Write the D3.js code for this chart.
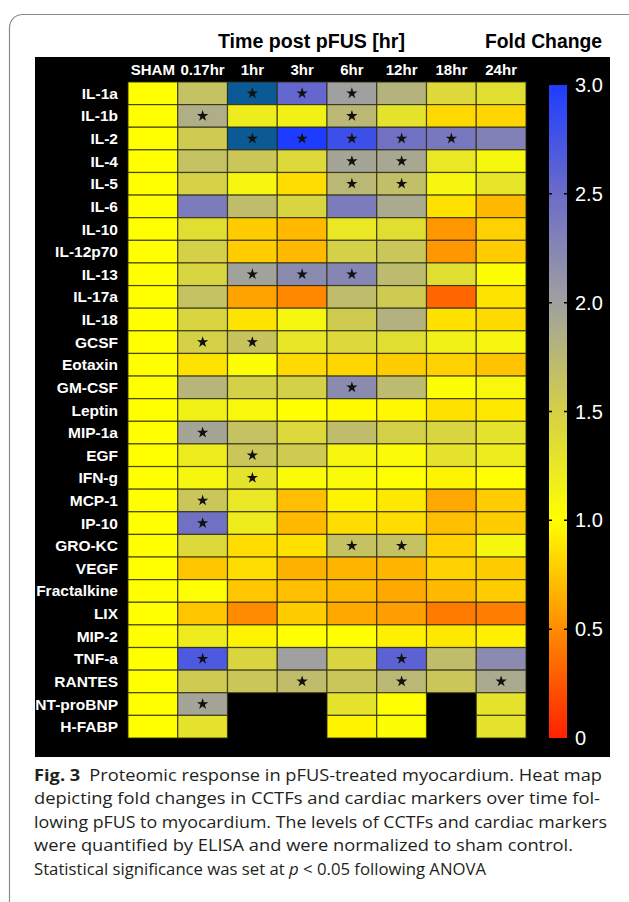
<!DOCTYPE html>
<html>
<head>
<meta charset="utf-8">
<script src="https://cdn.jsdelivr.net/npm/d3@7"></script>
<style>
  body { margin: 0; background: #fff; }
  svg { display: block; }
</style>
</head>
<body>
<svg width="629" height="902"></svg>
<script>
// time points (columns) and analytes (rows)
var timepoints = ["SHAM", "0.17hr", "1hr", "3hr", "6hr", "12hr", "18hr", "24hr"];
var analytes = ["IL-1a", "IL-1b", "IL-2", "IL-4", "IL-5", "IL-6", "IL-10", "IL-12p70", "IL-13",
  "IL-17a", "IL-18", "GCSF", "Eotaxin", "GM-CSF", "Leptin", "MIP-1a", "EGF", "IFN-g", "MCP-1",
  "IP-10", "GRO-KC", "VEGF", "Fractalkine", "LIX", "MIP-2", "TNF-a", "RANTES", "NT-proBNP", "H-FABP"];

// fold change per time point, one value per analyte (null = not measured)
var sham  = [1,1,1,1,1,1,1,1,1,1,1,1,1,1,1,1,1,1,1,1,1,1,1,1,1,1,1,1,1];
var h017  = [1.65,1.85,1.55,1.65,1.48,2.35,1.35,1.5,1.45,1.65,1.45,1.5,0.88,1.78,1.15,1.95,1.2,1.1,1.6,2.45,1.4,0.75,1.0,0.75,1.2,2.7,1.55,1.95,1.3];
var h1    = [3.5,1.2,3.5,1.6,1.1,1.7,0.78,0.78,1.98,0.6,0.88,1.62,1.02,1.5,1.08,1.65,1.6,1.3,1.25,1.2,0.85,0.85,0.75,0.5,0.95,1.45,1.6,null,null];
var h3    = [2.55,1.15,3.0,1.4,0.85,1.45,0.7,0.7,2.2,0.48,1.1,1.27,0.84,1.5,1.0,1.4,1.55,1.05,0.72,0.7,0.87,0.66,0.72,0.78,1.0,2.0,1.7,null,null];
var h6    = [2.0,1.75,2.8,1.95,1.75,2.35,1.25,1.5,2.25,1.7,1.55,1.4,0.82,2.2,0.98,1.7,1.1,1.05,0.95,0.85,1.65,0.68,0.7,0.62,1.0,1.45,1.6,1.3,0.95];
var h12   = [1.8,1.3,2.45,1.92,1.68,1.9,1.35,1.6,1.72,1.55,1.82,1.35,0.78,1.72,0.97,1.5,1.05,1.0,0.9,0.85,1.65,0.68,0.62,0.58,0.93,2.6,1.75,1.0,1.02];
var h18   = [1.4,0.83,2.38,1.25,1.1,0.87,0.55,0.55,1.35,0.32,0.87,1.15,0.8,1.02,0.87,1.45,1.3,0.95,0.62,0.72,0.8,0.8,0.7,0.42,0.9,1.7,1.6,null,null];
var h24   = [1.35,0.82,2.3,1.1,1.28,0.7,0.8,0.78,1.02,0.88,0.84,1.1,0.74,1.08,0.9,1.3,1.2,1.0,0.78,0.78,1.1,0.78,0.78,0.43,0.93,2.2,1.9,1.3,1.3];

// significant cells (p < 0.05): [analyte, time point]
var significant = [
  ["IL-1a","1hr"],["IL-1a","3hr"],["IL-1a","6hr"],
  ["IL-1b","0.17hr"],["IL-1b","6hr"],
  ["IL-2","1hr"],["IL-2","3hr"],["IL-2","6hr"],["IL-2","12hr"],["IL-2","18hr"],
  ["IL-4","6hr"],["IL-4","12hr"],["IL-5","6hr"],["IL-5","12hr"],
  ["IL-13","1hr"],["IL-13","3hr"],["IL-13","6hr"],
  ["GCSF","0.17hr"],["GCSF","1hr"],["GM-CSF","6hr"],["MIP-1a","0.17hr"],
  ["EGF","1hr"],["IFN-g","1hr"],["MCP-1","0.17hr"],["IP-10","0.17hr"],
  ["GRO-KC","6hr"],["GRO-KC","12hr"],["TNF-a","0.17hr"],["TNF-a","12hr"],
  ["RANTES","3hr"],["RANTES","12hr"],["RANTES","24hr"],["NT-proBNP","0.17hr"]
];

var colorTicks = [0, 0.5, 1.0, 1.5, 2.0, 2.5, 3.0];
var tickLabels = ["0", "0.5", "1.0", "1.5", "2.0", "2.5", "3.0"];

var captionLines = [
  "depicting fold changes in CCTFs and cardiac markers over time fol-",
  "lowing pFUS to myocardium. The levels of CCTFs and cardiac markers",
  "were quantified by ELISA and were normalized to sham control."
];

// build cell table
var series = [sham, h017, h1, h3, h6, h12, h18, h24];
var cells = [];
timepoints.forEach(function(t, j) {
  analytes.forEach(function(a, i) {
    if (series[j][i] !== null) cells.push({ row: a, col: t, value: series[j][i] });
  });
});

var svg = d3.select("svg");

// outer rounded frame
svg.append("rect")
  .attr("x", 9.5).attr("y", 14.5)
  .attr("width", 640).attr("height", 920)
  .attr("rx", 13)
  .attr("fill", "none")
  .attr("stroke", "#8a8a8a")
  .attr("stroke-width", 1.2);

// titles (condensed bold)
svg.append("text")
  .attr("x", 218).attr("y", 48)
  .attr("font-family", "Liberation Sans, Arial, sans-serif")
  .attr("font-weight", "bold")
  .attr("font-size", 20)
  .attr("textLength", 187).attr("lengthAdjust", "spacingAndGlyphs")
  .text("Time post pFUS [hr]");

svg.append("text")
  .attr("x", 485).attr("y", 48)
  .attr("font-family", "Liberation Sans, Arial, sans-serif")
  .attr("font-weight", "bold")
  .attr("font-size", 20)
  .attr("textLength", 117).attr("lengthAdjust", "spacingAndGlyphs")
  .text("Fold Change");

// black panel
svg.append("rect")
  .attr("x", 35).attr("y", 57)
  .attr("width", 575).attr("height", 700)
  .attr("fill", "#000");

var x = d3.scaleBand().domain(timepoints).range([128, 526]);
var y = d3.scaleBand().domain(analytes).range([82, 738]);

var color = d3.scaleLinear()
  .domain([0, 0.5, 1, 1.5, 2, 2.5, 3, 3.5])
  .range(["#ff2000", "#ff8c00", "#ffff00", "#d4d048", "#a0a0a0", "#6c6cc8", "#1e3cff", "#0b5a96"])
  .clamp(true);

// heat map cells
svg.append("g").selectAll("rect")
  .data(cells)
  .enter().append("rect")
  .attr("x", function(d) { return x(d.col); })
  .attr("y", function(d) { return y(d.row); })
  .attr("width", x.bandwidth())
  .attr("height", y.bandwidth())
  .attr("fill", function(d) { return color(d.value); })
  .attr("stroke", "#2a2a10")
  .attr("stroke-opacity", 0.75)
  .attr("stroke-width", 1.2);

// significance stars
var star = d3.symbol().type(d3.symbolStar).size(40);
svg.append("g").selectAll("path")
  .data(significant)
  .enter().append("path")
  .attr("d", star)
  .attr("transform", function(d) {
    return "translate(" + (x(d[1]) + x.bandwidth() / 2) + "," + (y(d[0]) + y.bandwidth() / 2) + ")";
  })
  .attr("fill", "#111");

// column headers
svg.append("g").selectAll("text")
  .data(timepoints)
  .enter().append("text")
  .attr("x", function(d) { return x(d) + x.bandwidth() / 2; })
  .attr("y", 75)
  .attr("text-anchor", "middle")
  .attr("font-family", "Liberation Sans, Arial, sans-serif")
  .attr("font-weight", "bold")
  .attr("font-size", 15)
  .attr("fill", "#fff")
  .text(function(d) { return d; });

// row labels
svg.append("g").selectAll("text")
  .data(analytes)
  .enter().append("text")
  .attr("x", 118)
  .attr("y", function(d) { return y(d) + y.bandwidth() / 2 + 5.5; })
  .attr("text-anchor", "end")
  .attr("font-family", "Liberation Sans, Arial, sans-serif")
  .attr("font-weight", "bold")
  .attr("font-size", 15.5)
  .attr("fill", "#fff")
  .text(function(d) { return d; });

// colour bar
var yc = d3.scaleLinear().domain([0, 3]).range([738, 85]);
var grad = svg.append("defs").append("linearGradient")
  .attr("id", "cbar")
  .attr("x1", 0).attr("y1", 1).attr("x2", 0).attr("y2", 0);
d3.range(0, 3.001, 0.1).forEach(function(v) {
  grad.append("stop").attr("offset", v / 3).attr("stop-color", color(v));
});
svg.append("rect")
  .attr("x", 549).attr("y", yc(3))
  .attr("width", 18).attr("height", yc(0) - yc(3))
  .attr("fill", "url(#cbar)");

var cticks = svg.append("g").selectAll("g")
  .data(colorTicks)
  .enter().append("g")
  .attr("transform", function(d) { return "translate(0," + yc(d) + ")"; });

cticks.filter(function(d) { return d > 0 && d < 3; })
  .append("path")
  .attr("d", "M549,0h3M564,0h3")
  .attr("stroke", "#000")
  .attr("stroke-width", 1.5);

cticks.append("text")
  .attr("x", 575)
  .attr("y", 7)
  .attr("font-family", "Liberation Sans, Arial, sans-serif")
  .attr("font-size", 20)
  .attr("fill", "#fff")
  .text(function(d, i) { return tickLabels[i]; });

// caption
var cap = svg.append("g")
  .attr("font-family", "Open Sans, Noto Sans, sans-serif")
  .attr("font-size", 16.5)
  .attr("fill", "#231f20");

var first = cap.append("text").attr("x", 34).attr("y", 781)
  .attr("textLength", 568).attr("lengthAdjust", "spacingAndGlyphs");
first.append("tspan").attr("font-weight", "bold").text("Fig. 3");
first.append("tspan").text("\u2002Proteomic response in pFUS-treated myocardium. Heat map");

cap.selectAll("text.line")
  .data(captionLines)
  .enter().append("text")
  .attr("class", "line")
  .attr("x", 34)
  .attr("y", function(d, i) { return 804 + i * 23.5; })
  .attr("textLength", function(d, i) { return [566, 573, 539][i]; })
  .attr("lengthAdjust", "spacingAndGlyphs")
  .text(function(d) { return d; });

var last = cap.append("text").attr("x", 34).attr("y", 875)
  .attr("textLength", 452).attr("lengthAdjust", "spacingAndGlyphs");
last.append("tspan").text("Statistical significance was set at ");
last.append("tspan").attr("font-style", "italic").text("p");
last.append("tspan").text(" < 0.05 following ANOVA");
</script>
</body>
</html>
